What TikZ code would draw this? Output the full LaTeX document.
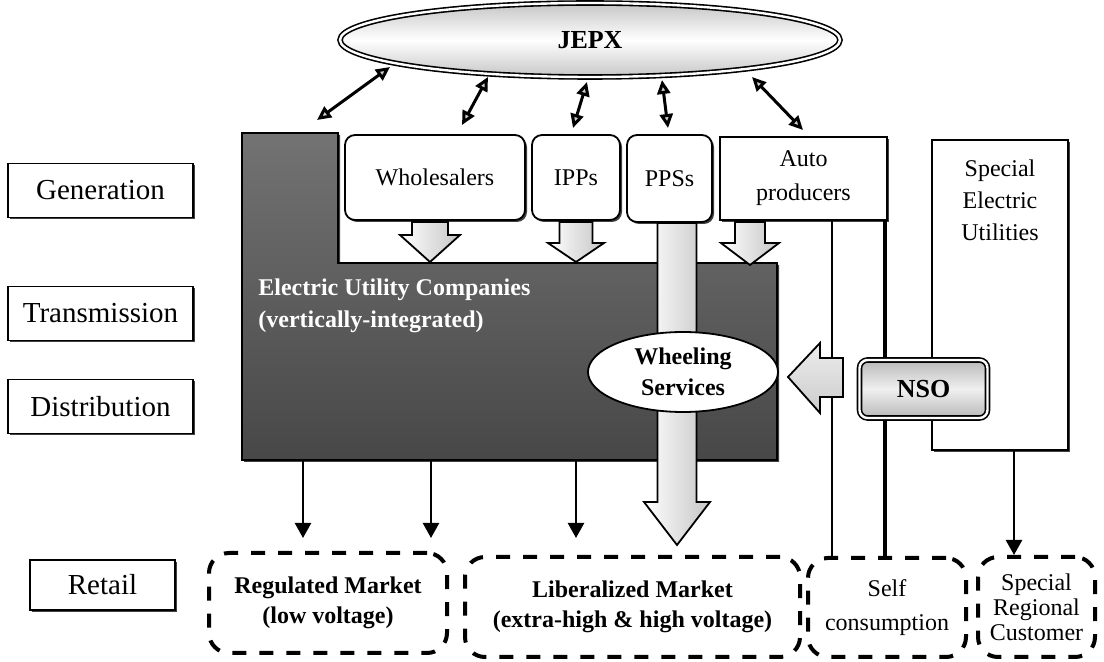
\documentclass[tikz,border=0pt]{standalone}
\usepackage{fontspec}
\setmainfont{Liberation Serif}
\usetikzlibrary{arrows.meta,shapes.geometric,shadows}
\newcommand\hollowdown[6]{\draw[hollow] ({#1-#5},#2) -- ({#1-#5},#3) -- ({#1-#6},#3) -- (#1,#4) -- ({#1+#6},#3) -- ({#1+#5},#3) -- ({#1+#5},#2) -- cycle;}
\begin{document}
\begin{tikzpicture}[x=0.5pt,y=-0.5pt,
  shd/.style={drop shadow={shadow xshift=1pt,shadow yshift=-1pt,opacity=1,fill=black!75}},
  lbl/.style={draw,line width=0.9pt,fill=white,minimum width=92.5pt,minimum height=27pt,inner sep=0pt,font=\fontsize{14.5}{17}\selectfont,shd},
  gbox/.style={draw,line width=0.9pt,fill=white,rounded corners=5pt,inner sep=0pt,align=center,font=\fontsize{12}{17}\selectfont,shd},
  sbox/.style={draw,line width=0.9pt,fill=white,inner sep=0pt,align=center,font=\fontsize{12}{17}\selectfont,shd},
  dbox/.style={draw,line width=2pt,dash pattern=on 7pt off 6.5pt,rounded corners=10pt,inner sep=0pt,align=center,font=\fontsize{12}{15}\selectfont},
  darr/.style={line width=1.2pt,-{Triangle[length=7.5pt,width=8pt]}},
  jarr/.style={line width=1.5pt,{Triangle[length=7pt,width=6.5pt,fill=gray!40]}-{Triangle[length=7pt,width=6.5pt,fill=gray!40]}},
  hollow/.style={draw,line width=0.9pt,left color=white,right color=gray!45,line join=miter},
  ln/.style={line width=1pt},
  lnthick/.style={line width=1.6pt}]
\useasboundingbox[fill=white] (0,0) rectangle (1104,662);

% dark block (electric utility companies)
\node[minimum width=267.5pt,minimum height=98.5pt,inner sep=0pt] (blk) at (509.5,361.5) {};
\path[draw,line width=1pt,top color=black!55,bottom color=black!72,shd]
  (242,133) -- (338,133) -- (338,263) -- (777,263) -- (777,460) -- (242,460) -- cycle;
\node[anchor=west,text=white,align=left,inner sep=0pt,font=\bfseries\fontsize{12}{16}\selectfont] (euc) at (258,306) {Electric Utility Companies\\(vertically-integrated)};

% generation boxes
\node[gbox,minimum width=90pt,minimum height=42.5pt] (whole) at (435,177.5) {Wholesalers};
\node[gbox,minimum width=44pt,minimum height=42.5pt] (ipps) at (576,177.5) {IPPs};
\node[gbox,minimum width=42.5pt,minimum height=43.5pt] (ppss) at (669.5,178.5) {PPSs};
\node[sbox,minimum width=83.5pt,minimum height=41.5pt] (auto) at (803.5,178.5) {Auto\\producers};

% hollow arrows into the block
\hollowdown{430}{222}{235}{262}{18}{30}
\hollowdown{576}{222}{243}{262}{16.5}{28}
\hollowdown{750}{222}{243}{265}{15}{29}
% big wheeling arrow
\hollowdown{677}{223}{502}{545}{19.5}{33}

\node[ellipse,draw,line width=0.9pt,fill=white,minimum width=95pt,minimum height=40pt,inner sep=0pt,align=center,font=\bfseries\fontsize{12}{15.5}\selectfont] (wheel) at (683,372) {Wheeling\\Services};

% lines from auto producers to self consumption
\coordinate (c832) at (832,0);
\coordinate (c885) at (885,0);
\coordinate (c1014) at (1014,0);

% retail boxes
\node[dbox,minimum width=119pt,minimum height=50pt,font=\bfseries\fontsize{12}{15}\selectfont] (reg) at (328,603) {Regulated Market\\(low voltage)};
\node[dbox,minimum width=167.5pt,minimum height=50pt,font=\bfseries\fontsize{12}{15}\selectfont] (lib) at (632.5,607) {Liberalized Market\\(extra-high \& high voltage)};
\node[dbox,minimum width=79pt,minimum height=49.5pt,font=\fontsize{12}{17}\selectfont] (self) at (887,607.5) {Self\\consumption};
\node[dbox,minimum width=58.5pt,minimum height=50pt,font=\fontsize{12}{12.5}\selectfont] (src) at (1036.5,607) {Special\\Regional\\Customer};

\draw[ln] (auto.south -| c832) -- (self.north -| c832);
\draw[lnthick] (auto.south -| c885) -- (self.north -| c885);

% special electric utilities
\node[draw,line width=1pt,minimum width=68pt,minimum height=155pt,inner sep=0pt,shd,fill=white] (spec) at (1000,295) {};
\node[align=center,inner sep=0pt,font=\fontsize{12}{16}\selectfont] (spect) at (1000,200) {Special\\Electric\\Utilities};
\draw[lnthick] (auto.south -| c885) -- (self.north -| c885);

% NSO
\node[draw,double,double distance=1.2pt,line width=0.8pt,rounded corners=4pt,minimum width=64pt,minimum height=29pt,inner sep=0pt,top color=gray!55,bottom color=gray!55,middle color=gray!12,font=\bfseries\fontsize{13}{15}\selectfont] (nso) at (923.5,389) {NSO};

% arrow NSO -> wheeling
\draw[draw,line width=0.9pt,top color=gray!15,bottom color=gray!40,line join=miter]
  (788,377) -- (820,343) -- (820,358) -- (843,358) -- (843,397) -- (820,397) -- (820,413) -- cycle;

% down arrows
\coordinate (d1) at (303,538);
\coordinate (d2) at (431,538);
\coordinate (d3) at (576,538);
\draw[darr] (blk.south -| d1) -- (d1);
\draw[darr] (blk.south -| d2) -- (d2);
\draw[darr] (blk.south -| d3) -- (d3);
\draw[darr] (spec.south -| c1014) -- (src.north -| c1014);

% left labels
\node[lbl] (gen) at (100.5,190.5) {Generation};
\node[lbl] (trans) at (100.5,313.5) {Transmission};
\node[lbl] (dist) at (100.5,406.5) {Distribution};
\node[lbl,minimum width=72.5pt,minimum height=25pt] (retail) at (102.5,585) {Retail};

% JEPX
\node[ellipse,draw,double,double distance=1.2pt,line width=0.8pt,minimum width=250pt,minimum height=37pt,inner sep=0pt,top color=gray!45,bottom color=gray!45,middle color=white,font=\bfseries\fontsize{13}{15}\selectfont] (jepx) at (590,40) {JEPX};
\coordinate (a1s) at (317,120); \coordinate (a1e) at (390,67);
\coordinate (a2s) at (462,125); \coordinate (a2e) at (488,77);
\coordinate (a3s) at (573,128); \coordinate (a3e) at (587,82);
\coordinate (a4s) at (668,128); \coordinate (a4e) at (662,80);
\coordinate (a5s) at (803,130); \coordinate (a5e) at (752,77);
\draw[jarr] (a1s) -- (a1e);
\draw[jarr] (a2s) -- (a2e);
\draw[jarr] (a3s) -- (a3e);
\draw[jarr] (a4s) -- (a4e);
\draw[jarr] (a5s) -- (a5e);
\end{tikzpicture}
\end{document}
